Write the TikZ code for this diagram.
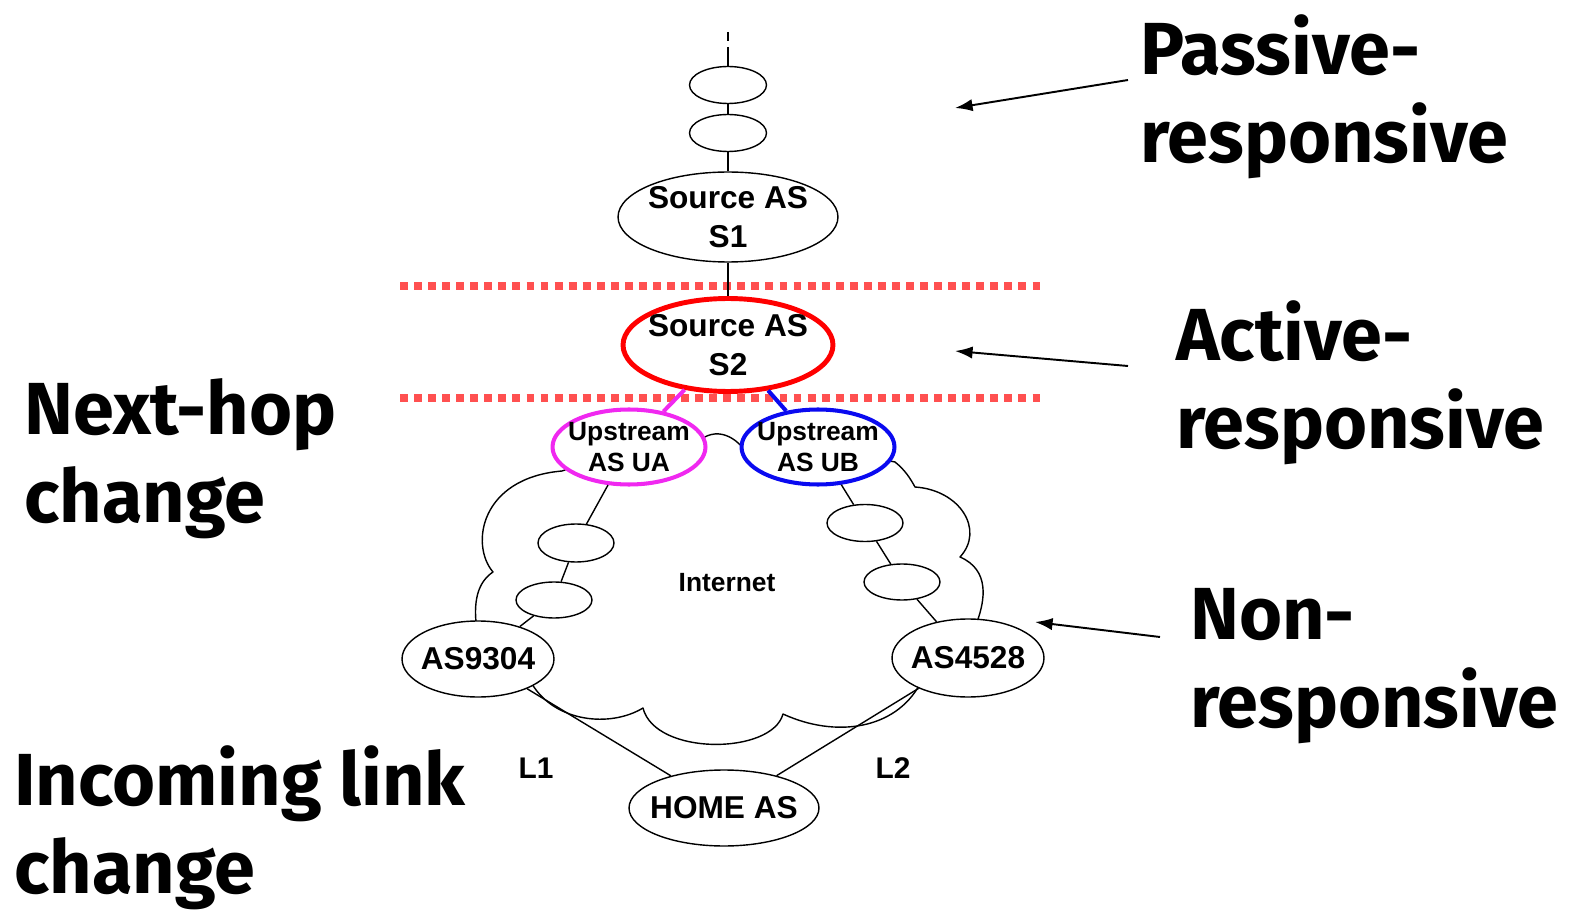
\documentclass[tikz,border=0pt]{standalone}
\usepackage{fontspec}
\usepackage{tikz}
\usetikzlibrary{%
  arrows.meta,%
  shapes.geometric%
}
\newfontfamily\asfont{Liberation Sans}
\newfontfamily\bigfont{Fira Sans}
\definecolor{cutred}{RGB}{255,80,80}
\definecolor{uamag}{RGB}{240,40,240}
\definecolor{ubblue}{RGB}{10,10,240}

\begin{document}
\begin{tikzpicture}[
    x=0.02cm,y=-0.02cm,
    >={Latex[length=10pt,width=7pt]},
    line join=round,
    asnode/.style={ellipse,draw,fill=white,line width=0.8pt,inner sep=-14pt,
        align=center,font=\asfont\bfseries\fontsize{18}{22}\selectfont},
    hop/.style={asnode,minimum width=1.54cm,minimum height=0.74cm},
    upstream/.style={asnode,line width=2.3pt,minimum width=3.06cm,
        minimum height=1.5cm,font=\asfont\bfseries\fontsize{15}{17.6}\selectfont},
    biglabel/.style={anchor=north west,inner sep=0pt,align=left,
        font=\bigfont\bfseries\fontsize{42}{50}\selectfont},
    link/.style={line width=0.8pt},
    pointer/.style={->,line width=1.1pt},
    cut/.style={cutred,line width=4pt,dash pattern=on 4.5pt off 3.5pt}
  ]
    \useasboundingbox (0,0) rectangle (1570,912);

    % the cloud
    \draw[link] (700,440) .. controls (720,425) and (740,440) .. (750,458)
        -- (818,447) -- (895,462)
        .. controls (905,470) and (910,478) .. (915,487)
        .. controls (960,490) and (985,530) .. (960,557)
        .. controls (990,570) and (985,600) .. (977,622)
        -- (968,658) -- (920,684)
        .. controls (895,730) and (835,738) .. (783,714)
        .. controls (772,755) and (655,756) .. (643,708)
        .. controls (610,728) and (555,722) .. (532,684)
        -- (478,659) -- (476,622)
        .. controls (474,600) and (478,582) .. (493,572)
        .. controls (470,545) and (480,478) .. (562,471)
        -- (629,447) -- cycle;

    \coordinate (cut1 w) at (400,286);
    \coordinate (cut1 e) at (1042,286);
    \coordinate (cut2 w) at (400,398);
    \coordinate (cut2 e) at (1042,398);
    \draw[cut] (cut1 w) -- (cut1 e);
    \draw[cut] (cut2 w) -- (cut2 e);

    \coordinate (top) at (728,32);
    \node[hop] (e1) at (728,85) {};
    \node[hop] (e2) at (728,133) {};
    \node[asnode,minimum width=4.4cm,minimum height=1.8cm] (s1) at (728,217)
        {Source AS\\S1};
    \node[asnode,draw=red,line width=2.8pt,minimum width=4.2cm,
        minimum height=1.86cm] (s2) at (728,345) {Source AS\\S2};
    \node[upstream,draw=uamag] (ua) at (629,447) {Upstream\\AS UA};
    \node[upstream,draw=ubblue] (ub) at (818,447) {Upstream\\AS UB};
    \node[hop,minimum width=1.52cm,minimum height=0.76cm] (a1) at (576,543) {};
    \node[hop,minimum width=1.52cm,minimum height=0.72cm] (a2) at (554,600) {};
    \node[hop,minimum width=1.52cm,minimum height=0.74cm] (b1) at (865,523) {};
    \node[hop,minimum width=1.52cm,minimum height=0.72cm] (b2) at (902,582) {};
    \node[asnode,minimum width=3.04cm,minimum height=1.52cm] (as9304) at (478,659)
        {AS9304};
    \node[asnode,minimum width=3.04cm,minimum height=1.56cm] (as4528) at (968,658)
        {AS4528};
    \node[asnode,minimum width=3.8cm,minimum height=1.52cm] (home) at (724,808)
        {HOME AS};
    \node[font=\asfont\bfseries\fontsize{15}{18}\selectfont] (internet) at (727,583)
        {Internet};
    \node[font=\asfont\bfseries\fontsize{17}{20}\selectfont] (l1) at (536,768) {L1};
    \node[font=\asfont\bfseries\fontsize{17}{20}\selectfont] (l2) at (893,768) {L2};

    \draw[link,dash pattern=on 5pt off 3.4pt on 12pt off 0pt] (top) -- (e1);
    \draw[link] (e1) -- (e2);
    \draw[link] (e2) -- (s1);
    \draw[link] (s1) -- (s2);
    \draw[uamag,line width=2.3pt] (s2) -- (ua);
    \draw[ubblue,line width=2.3pt] (s2) -- (ub);
    \draw[link] (ua) -- (a1);
    \draw[link] (a1) -- (a2);
    \draw[link] (a2) -- (as9304);
    \draw[link] (ub) -- (b1);
    \draw[link] (b1) -- (b2);
    \draw[link] (b2) -- (as4528);
    \draw[link] (as9304) -- (home);
    \draw[link] (as4528) -- (home);

    % the big labels and their pointers
    \node[biglabel] (passive) at (1140,14) {Passive-\\responsive};
    \node[biglabel] (active) at (1176,300) {Active-\\responsive};
    \node[biglabel] (nonresp) at (1190,588) {Non-\\responsive};
    \node[biglabel] (nexthop) at (24,378) {Next-hop\\change};
    \node[biglabel] (incoming) at (14,745) {Incoming link\\change};

    \coordinate (passive tail) at (1128,80);
    \coordinate (passive tip) at (955,108);
    \coordinate (active tail) at (1128,366);
    \coordinate (active tip) at (955,351);
    \coordinate (nonresp tail) at (1160,637);
    \coordinate (nonresp tip) at (1035,622);
    \draw[pointer] (passive tail) -- (passive tip);
    \draw[pointer] (active tail) -- (active tip);
    \draw[pointer] (nonresp tail) -- (nonresp tip);
\end{tikzpicture}
\end{document}
